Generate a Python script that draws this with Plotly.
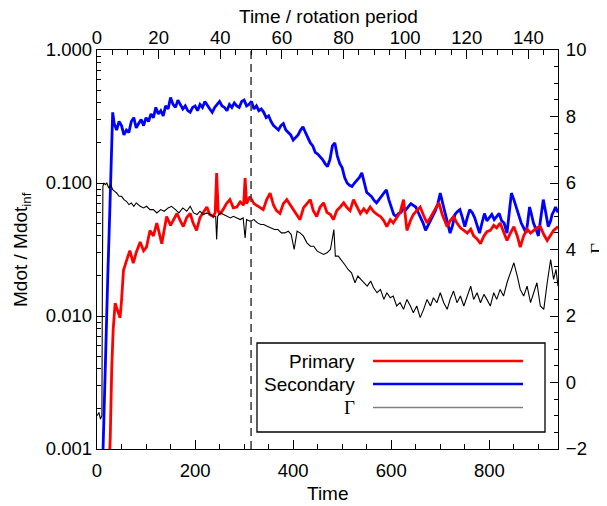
import math
import plotly.graph_objects as go

# ---------------- data ----------------
time_max = 940.0
rotation_period = 2 * math.pi
dashed_rotation = 50

sec_t = [0, 8, 12, 15, 18, 22, 26, 29, 32, 35, 40, 45, 50, 55, 60, 65, 70, 75, 80, 85, 90, 95,
         100, 105, 110, 115, 120, 125, 130, 135, 140, 145, 150, 155, 160, 165, 170, 175, 180,
         185, 190, 195, 200, 205, 210, 215, 220, 225, 230, 235, 240, 245, 250, 255, 260, 265,
         270, 275, 280, 285, 290, 295, 300, 305, 310, 315, 320, 325, 330, 335, 340, 345, 350,
         355, 360, 365, 370, 375, 380, 385, 390, 395, 400, 405, 410, 415, 420, 425, 430, 435,
         440, 445, 450, 455, 460, 465, 470, 475, 480, 485, 490, 495, 500, 505, 510, 515, 520,
         525, 530, 535, 540, 545, 550, 555, 560, 565, 570, 575, 580, 585, 590, 595, 600, 605,
         610, 615, 620, 625, 630, 635, 640, 645, 650, 655, 660, 665, 670, 675, 680, 685, 690,
         695, 700, 705, 710, 715, 720, 725, 730, 735, 740, 745, 750, 755, 760, 765, 770, 775,
         780, 785, 790, 795, 800, 805, 810, 815, 820, 825, 830, 836, 840, 845, 850, 855, 860,
         865, 870, 875, 878, 882, 885, 890, 895, 900, 905, 910, 915, 920, 925, 928, 932, 935,
         940]
sec_v = [0.0005, 0.0006, 0.0009, 0.0025, 0.0063, 0.02, 0.06, 0.12, 0.34, 0.28, 0.25, 0.29,
         0.27, 0.23, 0.25, 0.24, 0.29, 0.31, 0.26, 0.28, 0.30, 0.27, 0.31, 0.29, 0.33, 0.31,
         0.37, 0.33, 0.35, 0.32, 0.38, 0.36, 0.44, 0.39, 0.37, 0.42, 0.39, 0.36, 0.38, 0.35,
         0.34, 0.37, 0.38, 0.35, 0.39, 0.37, 0.41, 0.38, 0.36, 0.34, 0.37, 0.39, 0.41, 0.38,
         0.37, 0.35, 0.39, 0.37, 0.40, 0.38, 0.37, 0.41, 0.42, 0.38, 0.39, 0.41, 0.36, 0.38,
         0.35, 0.36, 0.34, 0.31, 0.32, 0.29, 0.27, 0.26, 0.25, 0.27, 0.28, 0.25, 0.24, 0.23,
         0.21, 0.22, 0.23, 0.25, 0.265, 0.24, 0.22, 0.20, 0.19, 0.17, 0.165, 0.158, 0.15,
         0.14, 0.133, 0.15, 0.19, 0.20, 0.16, 0.14, 0.13, 0.11, 0.10, 0.096, 0.094, 0.10,
         0.105, 0.11, 0.119, 0.10, 0.085, 0.082, 0.079, 0.074, 0.071, 0.075, 0.08, 0.085,
         0.089, 0.075, 0.065, 0.058, 0.056, 0.059, 0.06, 0.065, 0.063, 0.067, 0.07, 0.068,
         0.066, 0.06, 0.055, 0.05, 0.044, 0.048, 0.052, 0.057, 0.062, 0.07, 0.084, 0.07, 0.06,
         0.05, 0.042, 0.048, 0.058, 0.061, 0.063, 0.055, 0.047, 0.055, 0.063, 0.06, 0.055,
         0.048, 0.042, 0.05, 0.059, 0.052, 0.055, 0.058, 0.053, 0.056, 0.059, 0.052, 0.05,
         0.042, 0.06, 0.084, 0.075, 0.066, 0.058, 0.05, 0.046, 0.042, 0.05, 0.066, 0.06, 0.05,
         0.045, 0.040, 0.055, 0.075, 0.06, 0.047, 0.052, 0.058, 0.062, 0.066, 0.06, 0.055,
         0.059]

pri_t = [0, 22, 25, 27, 30, 33, 37, 42, 47, 50, 54, 60, 67, 74, 80, 88, 95, 101, 108, 115,
         122, 132, 142, 150, 156, 163, 170, 176, 183, 190, 196, 203, 210, 217, 224, 230, 237,
         241, 244, 247, 250, 257, 264, 271, 278, 285, 292, 299, 302, 305, 312, 320, 330, 339,
         346, 353, 360, 366, 373, 380, 387, 394, 400, 407, 414, 421, 428, 435, 441, 448, 455,
         462, 469, 476, 482, 489, 496, 503, 510, 516, 523, 530, 537, 544, 550, 557, 564, 571,
         578, 585, 591, 598, 604, 610, 618, 625, 628, 632, 639, 645, 652, 659, 666, 673, 680,
         686, 693, 697, 704, 710, 714, 720, 727, 734, 741, 748, 755, 762, 768, 775, 782, 789,
         795, 802, 809, 815, 822, 829, 836, 843, 850, 857, 863, 870, 877, 884, 891, 897, 904,
         911, 918, 925, 931, 940]
pri_v = [0.0003, 0.0004, 0.0008, 0.0012, 0.004, 0.0079, 0.0125, 0.011, 0.0097, 0.013, 0.022,
         0.026, 0.031, 0.025, 0.030, 0.036, 0.031, 0.033, 0.044, 0.040, 0.050, 0.035, 0.056,
         0.048, 0.053, 0.059, 0.052, 0.047, 0.055, 0.059, 0.050, 0.044, 0.055, 0.060, 0.066,
         0.058, 0.056, 0.060, 0.119, 0.062, 0.058, 0.063, 0.070, 0.075, 0.065, 0.066, 0.072,
         0.068, 0.109, 0.070, 0.079, 0.070, 0.066, 0.063, 0.075, 0.084, 0.068, 0.062, 0.059,
         0.070, 0.075, 0.068, 0.063, 0.058, 0.053, 0.065, 0.070, 0.075, 0.062, 0.056, 0.066,
         0.071, 0.060, 0.058, 0.053, 0.062, 0.066, 0.071, 0.065, 0.062, 0.075, 0.066, 0.059,
         0.064, 0.060, 0.066, 0.061, 0.058, 0.056, 0.052, 0.047, 0.053, 0.050, 0.054, 0.060,
         0.075, 0.056, 0.044, 0.052, 0.058, 0.062, 0.066, 0.057, 0.050, 0.055, 0.060, 0.066,
         0.071, 0.058, 0.050, 0.047, 0.052, 0.056, 0.050, 0.046, 0.044, 0.042, 0.045, 0.040,
         0.038, 0.035, 0.040, 0.043, 0.044, 0.048, 0.046, 0.050, 0.043, 0.037, 0.042, 0.047,
         0.040, 0.033, 0.040, 0.045, 0.042, 0.044, 0.046, 0.047, 0.041, 0.037, 0.041, 0.044,
         0.047]

gam_t = [0, 4, 7, 10, 11, 12, 14, 17, 20, 24, 28, 32, 36, 40, 45, 50, 55, 60, 65, 70, 75,
         80, 88, 95, 101, 108, 115, 122, 130, 137, 145, 152, 160, 167, 175, 183, 190, 197,
         204, 210, 217, 224, 231, 237, 242, 244, 246, 252, 258, 265, 272, 278, 285, 292, 298,
         302, 305, 312, 320, 327, 334, 340, 347, 355, 362, 369, 376, 383, 390, 396, 402, 408,
         414, 421, 428, 435, 442, 449, 455, 462, 469, 476, 483, 486, 492, 498, 505, 512, 519,
         526, 532, 538, 545, 551, 558, 564, 571, 578, 585, 591, 598, 604, 611, 618, 625, 632,
         639, 645, 652, 659, 666, 673, 680, 686, 693, 700, 707, 714, 720, 727, 734, 741, 748,
         755, 762, 768, 775, 782, 789, 795, 802, 809, 815, 822, 829, 836, 843, 850, 857, 863,
         870, 877, 884, 891, 897, 904, 911, 918, 925, 931, 936, 940]
gam_v = [-1.0, -0.9, -1.1, -1.0, 3.0, 5.9, 6.0, 5.95, 6.0, 5.85, 5.95, 5.8, 5.75, 5.7, 5.6,
         5.6, 5.5, 5.45, 5.35, 5.4, 5.3, 5.4, 5.3, 5.25, 5.3, 5.2, 5.2, 5.1, 5.2, 5.15, 5.25,
         5.3, 5.2, 5.1, 5.25, 5.15, 5.3, 5.1, 5.05, 5.15, 5.05, 5.1, 5.05, 5.0, 5.0, 4.3, 5.0,
         5.1, 5.05, 5.0, 4.95, 5.0, 4.95, 4.9, 4.95, 4.35, 4.9, 4.85, 4.9, 4.8, 4.75, 4.75,
         4.7, 4.65, 4.6, 4.6, 4.5, 4.5, 4.55, 4.45, 4.0, 4.55, 4.5, 4.4, 4.2, 4.1, 4.1, 3.95,
         3.9, 3.85, 3.9, 4.0, 4.6, 3.8, 3.8, 3.7, 3.55, 3.4, 3.3, 3.0, 3.2, 3.1, 3.0, 2.9,
         3.05, 2.85, 2.7, 2.8, 2.5, 2.7, 2.55, 2.6, 2.3, 2.4, 2.2, 2.5, 2.3, 2.1, 2.3, 1.95,
         2.2, 2.5, 2.3, 2.55, 2.4, 2.7, 2.4, 2.2, 2.5, 2.75, 2.4, 2.6, 2.3, 2.6, 2.9, 2.5,
         2.7, 2.4, 2.65, 2.5, 2.3, 2.7, 2.5, 2.8, 2.6, 3.0, 3.3, 3.6, 3.2, 2.8, 2.6, 2.9,
         2.4, 2.7, 3.0, 2.3, 2.2, 3.0, 3.7, 3.1, 3.4, 2.9]

bottom_ticks = [0, 200, 400, 600, 800]
top_ticks = [0, 20, 40, 60, 80, 100, 120, 140]
left_ticks = [0.001, 0.01, 0.1, 1.0]
left_ticktext = ["0.001", "0.010", "0.100", "1.000"]
right_ticks = [-2, 0, 2, 4, 6, 8, 10]
legend_names = ["Primary", "Secondary", "\u0393"]
legend_colors = ["#ff0000", "#0000ff", "#808080"]

# ---------------- figure ----------------
FONT = "Liberation Sans"
SERIF = "Liberation Serif"
FS = 18.5
FT = 19

# the page body adds an 8px offset; plot area lands at screen x 97..558, y 50..449
OFF = 8
W, H = 607 - OFF, 506 - OFF
PL, PT, PR, PB = 97, 50, 558, 449

fig = go.Figure()
fig.add_trace(go.Scatter(x=sec_t, y=sec_v, mode="lines", line=dict(color="#0000ff", width=2.8),
                         xaxis="x", yaxis="y", showlegend=False))
fig.add_trace(go.Scatter(x=pri_t, y=pri_v, mode="lines", line=dict(color="#ff0000", width=2.8),
                         xaxis="x", yaxis="y", showlegend=False))
fig.add_trace(go.Scatter(x=[dashed_rotation, dashed_rotation], y=[0.001, 1.0], mode="lines",
                         line=dict(color="#444444", width=1.6, dash="8px,5px"),
                         xaxis="x2", yaxis="y", showlegend=False))
fig.add_trace(go.Scatter(x=gam_t, y=gam_v, mode="lines", line=dict(color="#000000", width=1.1),
                         xaxis="x", yaxis="y2", showlegend=False))

minor_log = [m * 10.0 ** e for e in (-3, -2, -1) for m in range(2, 10)]

axis_common = dict(showline=True, linecolor="black", linewidth=1.3, ticks="inside",
                   tickcolor="black", tickwidth=1.2, showgrid=False, zeroline=False,
                   automargin=False,
                   tickfont=dict(family=FONT, size=FS, color="black"))

fig.update_layout(
    width=W, height=H,
    margin=dict(l=PL - OFF, r=(OFF + W) - PR, t=PT - OFF, b=(OFF + H) - PB),
    paper_bgcolor="white", plot_bgcolor="white",
    font=dict(family=FONT, size=FS, color="black"),
    xaxis=dict(range=[0, time_max], tickmode="array", tickvals=bottom_ticks, ticklen=9,
               ticklabelstandoff=5,
               minor=dict(dtick=50, ticklen=5, ticks="inside", tickcolor="black"),
               **axis_common),
    xaxis2=dict(range=[0, time_max / rotation_period], overlaying="x", side="top",
                tickmode="array", tickvals=top_ticks, ticklen=9, ticklabelstandoff=-3,
                minor=dict(dtick=5, ticklen=5, ticks="inside", tickcolor="black"),
                **axis_common),
    yaxis=dict(type="log", range=[-3, 0], tickmode="array", tickvals=left_ticks,
               ticktext=left_ticktext, ticklen=8,
               minor=dict(tickmode="array", tickvals=minor_log, ticklen=4, ticks="inside",
                          tickcolor="black"),
               **axis_common),
    yaxis2=dict(range=[-2, 10], overlaying="y", side="right", tickmode="array",
                tickvals=right_ticks, ticklen=8, ticklabelstandoff=3,
                minor=dict(dtick=0.5, ticklen=4, ticks="inside", tickcolor="black"),
                **axis_common),
)

def px(xp):
    return (xp - PL) / float(PR - PL)

def py(yp):
    return 1 - (yp - PT) / float(PB - PT)

# axis titles
fig.add_annotation(xref="paper", yref="paper", x=px(328), y=py(16), text="Time / rotation period",
                   showarrow=False, xanchor="center", yanchor="middle",
                   font=dict(family=FONT, size=FT, color="black"))
fig.add_annotation(xref="paper", yref="paper", x=px(328), y=py(493), text="Time",
                   showarrow=False, xanchor="center", yanchor="middle",
                   font=dict(family=FONT, size=FT, color="black"))
fig.add_annotation(xref="paper", yref="paper", x=px(22), y=py(250),
                   text="Mdot / Mdot<sub>inf</sub>", textangle=-90,
                   showarrow=False, xanchor="center", yanchor="middle",
                   font=dict(family=FONT, size=FT, color="black"))
fig.add_annotation(xref="paper", yref="paper", x=px(597), y=py(249), text="\u0393",
                   textangle=-90, showarrow=False, xanchor="center", yanchor="middle",
                   font=dict(family=SERIF, size=FT, color="black"))

# legend box drawn by hand (text right-aligned, sample line to the right)
fig.add_shape(type="rect", xref="paper", yref="paper", x0=px(257), x1=px(545), y0=py(432),
              y1=py(343), line=dict(color="black", width=1.3), fillcolor="white", layer="above")
rows_y = [361, 384, 407.5]
widths = [2.6, 2.6, 1.4]
for name, col, ry, w in zip(legend_names, legend_colors, rows_y, widths):
    fig.add_shape(type="line", xref="paper", yref="paper", x0=px(373), x1=px(523),
                  y0=py(ry), y1=py(ry), line=dict(color=col, width=w), layer="above")
    fam = SERIF if name == "\u0393" else FONT
    fig.add_annotation(xref="paper", yref="paper", x=px(357), y=py(ry), text=name,
                       showarrow=False, xanchor="right", yanchor="middle",
                       font=dict(family=fam, size=19, color="black"))

fig.write_html("out.html")
